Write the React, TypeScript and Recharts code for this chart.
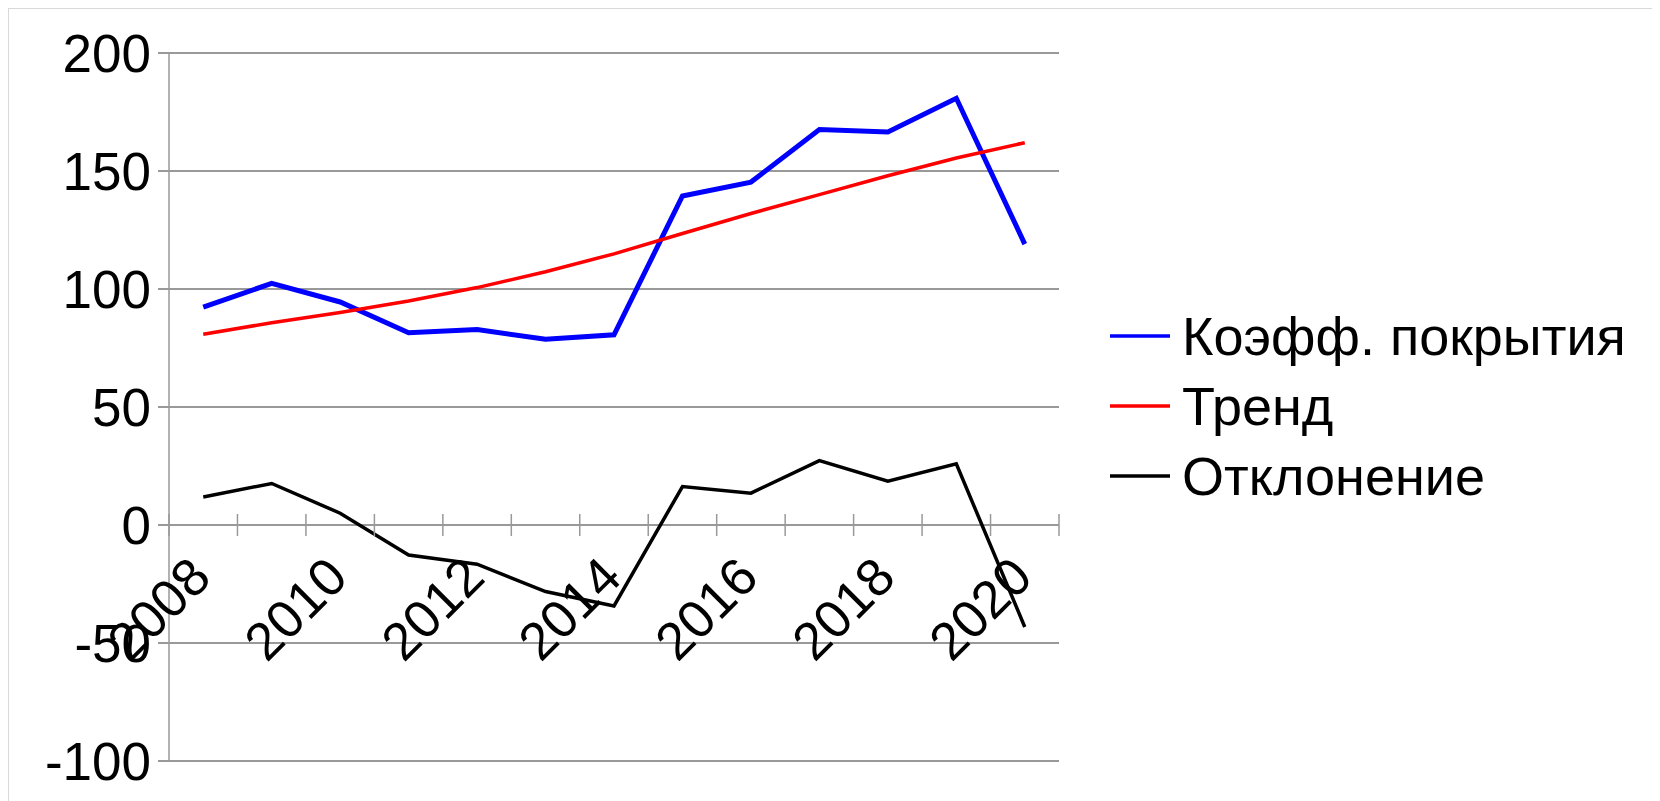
import { LineChart, Line, XAxis, YAxis, CartesianGrid, Legend } from "recharts";

// categories and values
const years = [2008, 2009, 2010, 2011, 2012, 2013, 2014, 2015, 2016, 2017, 2018, 2019, 2020];
const yearLabels = [2008, 2010, 2012, 2014, 2016, 2018, 2020];
const coverage = [92.3, 102.4, 94.5, 81.5, 82.8, 78.7, 80.6, 139.4, 145.3, 167.6, 166.5, 180.8, 119.0];
const trend = [80.8, 85.7, 90.0, 94.9, 100.6, 107.3, 114.9, 123.5, 132.0, 140.0, 148.0, 155.5, 162.0];
const deviation = [11.9, 17.6, 5.0, -12.7, -16.6, -28.2, -34.3, 16.3, 13.5, 27.3, 18.6, 25.9, -43.2];
const yTicks = [-100, -50, 0, 50, 100, 150, 200];
const seriesNames = ["Коэфф. покрытия", "Тренд", "Отклонение"];
const seriesColors = ["#0000ff", "#ff0000", "#000000"];

const data = years.map((year, i) => ({
  year,
  [seriesNames[0]]: coverage[i],
  [seriesNames[1]]: trend[i],
  [seriesNames[2]]: deviation[i],
}));

const FONT = "'Liberation Sans', Arial, sans-serif";
const GRID = "#999999";
const W = 1650;
const H = 790;
const margin = { top: 44, right: 600, bottom: 37, left: 0 };
const X_AXIS_H = 1;
const yMin = yTicks[0];
const yMax = yTicks[yTicks.length - 1];
const plotH = H - margin.top - margin.bottom - X_AXIS_H;
// the category axis crosses at y = 0, as in the original spreadsheet chart
const zeroY = margin.top + (plotH * yMax) / (yMax - yMin);

const boundaries = [...years.map((y) => y - 0.5), years[years.length - 1] + 0.5];
const xTicks = [...boundaries, ...yearLabels].sort((a, b) => a - b);

function YearTick({ x, payload }: any) {
  const v = payload.value as number;
  if (!Number.isInteger(v)) {
    return <line x1={x} x2={x} y1={zeroY - 11} y2={zeroY + 11} stroke={GRID} strokeWidth={1.5} />;
  }
  const ax = x + 10;
  const ay = zeroY + 55;
  return (
    <text x={ax} y={ay} textAnchor="end" transform={`rotate(-45 ${ax} ${ay})`} fill="#000" fontSize={53} fontFamily={FONT}>
      {v}
    </text>
  );
}

// legend drawn in series order (recharts would sort it by name)
function LegendBox() {
  return (
    <div style={{ fontFamily: FONT, fontSize: 54, color: "#000" }}>
      {seriesNames.map((name, i) => (
        <div key={name} style={{ height: 70, display: "flex", alignItems: "center", whiteSpace: "nowrap" }}>
          <svg width={60} height={6} style={{ marginRight: 12 }}>
            <line x1={0} x2={60} y1={3} y2={3} stroke={seriesColors[i]} strokeWidth={3.5} />
          </svg>
          <span>{name}</span>
        </div>
      ))}
    </div>
  );
}

export default function App() {
  return (
    <div style={{ width: W, height: 800, border: "1px solid #d9d9d9", background: "#fff" }}>
      <style>{"body{overflow:hidden}"}</style>
      <LineChart width={W} height={H} data={data} margin={margin}>
        <CartesianGrid vertical={false} stroke={GRID} strokeWidth={2} />
        <XAxis
          dataKey="year"
          type="number"
          domain={[boundaries[0], boundaries[boundaries.length - 1]]}
          ticks={xTicks}
          interval={0}
          height={X_AXIS_H}
          axisLine={false}
          tickLine={false}
          tickSize={0}
          tickMargin={0}
          tick={<YearTick />}
        />
        <YAxis
          domain={[yMin, yMax]}
          ticks={yTicks}
          interval={0}
          width={160}
          axisLine={{ stroke: GRID, strokeWidth: 1.5 }}
          tickLine={{ stroke: GRID, strokeWidth: 2 }}
          tickSize={11}
          tickMargin={7}
          tick={{ fill: "#000", fontSize: 53, fontFamily: FONT }}
        />
        <Legend
          layout="vertical"
          align="center"
          verticalAlign="middle"
          wrapperStyle={{ left: 1101, top: 292, width: 545 }}
          content={<LegendBox />}
        />
        <Line dataKey={seriesNames[0]} stroke={seriesColors[0]} strokeWidth={5} dot={false} isAnimationActive={false} />
        <Line dataKey={seriesNames[1]} stroke={seriesColors[1]} strokeWidth={3.5} dot={false} isAnimationActive={false} />
        <Line dataKey={seriesNames[2]} stroke={seriesColors[2]} strokeWidth={3.5} dot={false} isAnimationActive={false} />
      </LineChart>
    </div>
  );
}
